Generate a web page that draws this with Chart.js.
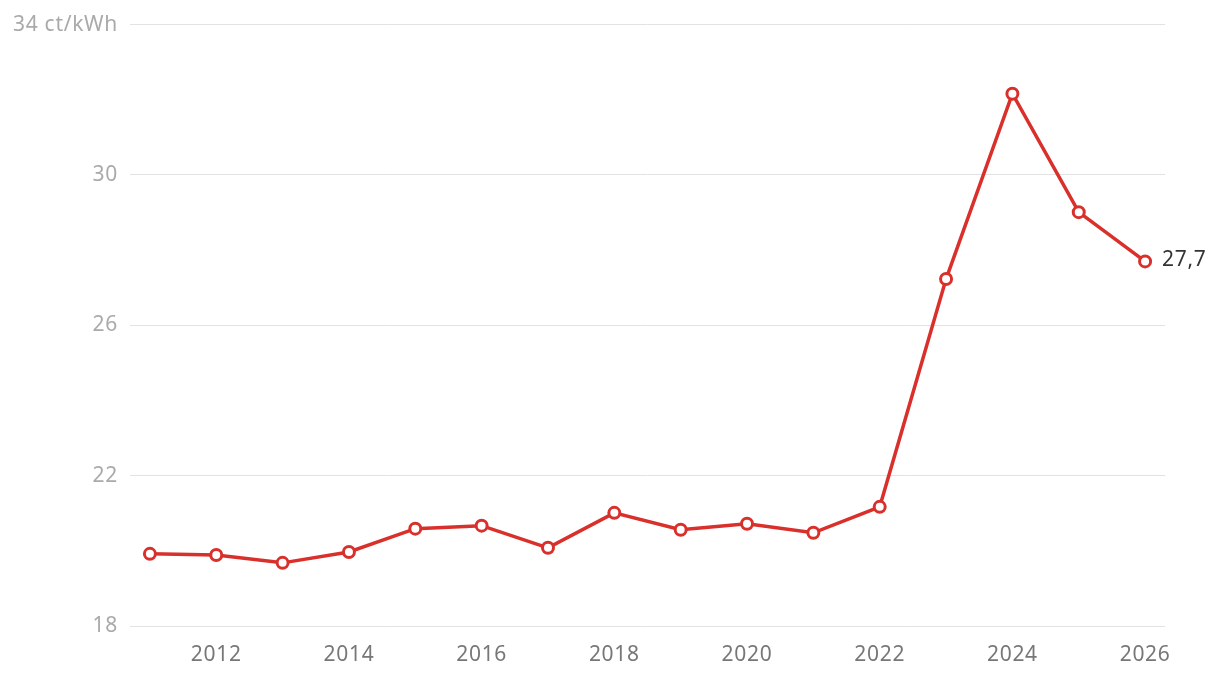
<!DOCTYPE html>
<html><head><meta charset="utf-8">
<script src="https://cdn.jsdelivr.net/npm/chart.js@4/dist/chart.umd.min.js"></script>
<style>html,body{margin:0;padding:0;background:#fff}#wrap{width:1220px;height:678px}</style>
</head><body><div id="wrap"><canvas id="c" width="1220" height="678"></canvas></div>
<script>
const years = [2011,2012,2013,2014,2015,2016,2017,2018,2019,2020,2021,2022,2023,2024,2025,2026];
const prices = [19.92,19.89,19.68,19.97,20.59,20.67,20.08,21.01,20.56,20.72,20.48,21.17,27.23,32.16,29.01,27.7];
const xTicks = [2012,2014,2016,2018,2020,2022,2024,2026];
const yTicks = [18,22,26,30,34];
const unit = 'ct/kWh';
const lastLabel = '27,7';
const FONT = "'Noto Sans', sans-serif";
const RED = '#d9302b';
const SPACING = '0.7px';

const spacingPlugin = {
  id:'spacing',
  beforeInit(chart){ chart.ctx.letterSpacing = SPACING; },
  beforeDraw(chart){ chart.ctx.letterSpacing = SPACING; }
};

const endLabel = {
  id:'endLabel',
  afterDatasetsDraw(chart){
    const meta = chart.getDatasetMeta(0);
    const p = meta.data[meta.data.length-1];
    const ctx = chart.ctx;
    ctx.save();
    ctx.letterSpacing = SPACING;
    ctx.font = "21px " + FONT;
    ctx.fillStyle = '#333';
    ctx.textAlign = 'left';
    ctx.textBaseline = 'middle';
    ctx.fillText(lastLabel, p.x + 17, p.y - 1);
    ctx.restore();
  }
};

new Chart(document.getElementById('c'), {
  type:'line',
  data:{ datasets:[{
    data: years.map((y,i)=>({x:y,y:prices[i]})),
    borderColor: RED, borderWidth: 3.5,
    pointBackgroundColor:'#fff', pointBorderColor: RED,
    pointBorderWidth: 3, pointRadius: 5.5, tension: 0
  }]},
  options:{
    responsive:false, animation:false,
    layout:{padding:{left:0,right:55,top:17,bottom:0}},
    plugins:{legend:{display:false},tooltip:{enabled:false}},
    scales:{
      x:{type:'linear', min:2010.7, max:2026.3,
        afterBuildTicks(s){ s.ticks = xTicks.map(v=>({value:v})); },
        afterFit(s){ s.height = 52; },
        grid:{display:false}, border:{display:false},
        ticks:{color:'#777', font:{family:FONT,size:21}, padding:8, maxRotation:0,
          callback:v=>String(v)}
      },
      y:{min:18, max:34,
        afterBuildTicks(s){ s.ticks = yTicks.map(v=>({value:v})); },
        afterFit(s){ s.width = 130; },
        grid:{color:'#e2e2e2', lineWidth:1, drawTicks:false}, border:{display:false},
        ticks:{color:'#aaa', font:{family:FONT,size:21}, padding:12,
          callback:v=> v===34 ? v+' '+unit : String(v)}
      }
    }
  },
  plugins:[spacingPlugin, endLabel]
});
</script></body></html>
